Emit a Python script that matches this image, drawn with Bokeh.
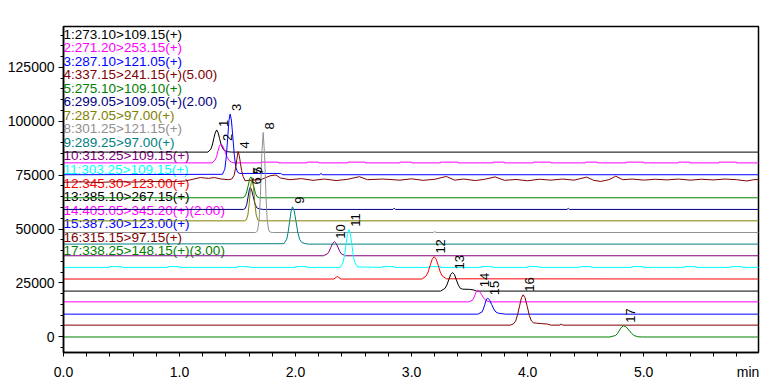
import math
from bokeh.plotting import figure
from bokeh.models import FixedTicker, PrintfTickFormatter, CustomJSTickFormatter, Range1d
from bokeh.embed import file_html
from bokeh.resources import INLINE
from bokeh.core.properties import value

TRACE_LABELS = ["1:273.10>109.15(+)", "2:271.20>253.15(+)", "3:287.10>121.05(+)",
                "4:337.15>241.15(+)(5.00)", "5:275.10>109.10(+)", "6:299.05>109.05(+)(2.00)",
                "7:287.05>97.00(+)", "8:301.25>121.15(+)", "9:289.25>97.00(+)",
                "10:313.25>109.15(+)", "11:303.25>109.15(+)", "12:345.30>123.00(+)",
                "13:385.10>267.15(+)", "14:405.05>345.20(+)(2.00)", "15:387.30>123.00(+)",
                "16:315.15>97.15(+)", "17:338.25>148.15(+)(3.00)"]
COLORS = ["#000000", "#FF00FF", "#0000FF", "#800000", "#008000", "#000080", "#808000",
          "#909090", "#008080", "#800080", "#00FFFF", "#FF0000", "#000000", "#FF00FF",
          "#0000FF", "#800000", "#008000"]
# stacking offset of each trace (intensity units)
OFFSETS = [85700, 80700, 75200, 72900, 64500, 59100, 53800, 48400, 43000, 37600,
           32200, 26800, 21200, 16200, 10500, 5400, -100]

# retention time (min) / intensity above own baseline
T1 = [0, 1.245, 1.27, 1.283, 1.295, 1.307, 1.32, 1.333, 1.345, 1.36, 1.38, 1.41, 1.45, 6.0]
H1 = [0, 0, 1400, 3300, 6300, 8800, 10300, 9000, 6300, 3200, 1000, 200, 0, 0]
T2 = [0, 1.28, 1.306, 1.319, 1.331, 1.343, 1.356, 1.37, 1.391, 1.408, 1.426, 1.445, 1.47,
      1.7, 1.7, 1.85, 1.85, 2.1, 2.1, 2.2, 2.2, 2.45, 2.45, 2.6, 2.6, 2.9, 2.9, 3.0, 3.0,
      3.25, 3.25, 3.4, 3.4, 3.7, 3.7, 3.8, 3.8, 4.05, 4.05, 4.2, 4.2, 4.5, 4.5, 4.6, 4.6,
      4.85, 4.85, 5.0, 5.0, 5.3, 5.3, 5.4, 5.4, 5.65, 5.65, 5.8, 5.8, 6.0]
H2 = [0, 0, 1200, 2800, 5400, 7700, 8800, 8100, 5400, 2800, 1200, 400, 0,
      0, 350, 350, 0, 0, 350, 350, 0, 0, 350, 350, 0, 0, 350, 350, 0,
      0, 350, 350, 0, 0, 350, 350, 0, 0, 350, 350, 0, 0, 350, 350, 0,
      0, 350, 350, 0, 0, 350, 350, 0, 0, 350, 350, 0, 0]
T3 = [0, 1.37, 1.39, 1.404, 1.415, 1.426, 1.436, 1.447, 1.46, 1.472, 1.485, 1.50, 1.52,
      1.87, 1.89, 2.21, 2.22, 2.23, 6.0]
H3 = [0, 200, 2500, 8800, 17100, 25200, 28200, 25400, 17100, 9200, 3500, 1200, 600,
      600, 0, 0, 700, 0, 0]
T4 = [0, 0.15, 0.3, 0.45, 0.6, 0.75, 0.9, 1.05, 1.18, 1.25, 1.3, 1.35, 1.42,
      1.45, 1.47, 1.483, 1.494, 1.505, 1.515, 1.525, 1.535, 1.548, 1.565,
      1.6, 1.7, 1.78, 1.83, 1.87, 1.95, 2.05, 2.15, 2.25, 2.35, 2.45, 2.55, 2.62, 2.75, 2.9,
      3.0, 3.1, 3.2, 3.3, 3.37, 3.45, 3.55, 3.63, 3.72, 3.8, 3.9,
      4.0, 4.1, 4.2, 4.3, 4.4, 4.51, 4.57, 4.63, 4.7, 4.76, 4.82, 4.9,
      5.0, 5.1, 5.2, 5.3, 5.4, 5.5, 5.6, 5.7, 5.8, 5.89, 5.95, 6.0]
H4 = [-1200, -1000, -1300, -900, -1100, -800, -1000, -600, 1000, 600, 1000, 400, 0,
      300, 2000, 5300, 9500, 13100, 11200, 7600, 4200, 1500, -500,
      -300, 0, 1800, 2200, 800, 0, 500, -300, 300, -400, 200, 1400, 0, 300, -200,
      400, -300, 200, 1500, -200, 300, -400, 200, 1300, -300, 100,
      -500, 200, -200, 300, -200, 1200, -300, -800, 0, 1600, 0, 300,
      -200, 200, -100, 300, -200, 200, -100, 300, 0, -600, 0, 100]
T5 = [0, 1.54, 1.56, 1.575, 1.593, 1.605, 1.615, 1.626, 1.637, 1.655, 1.67, 1.69, 6.0]
H5 = [0, 0, 400, 1900, 5900, 8800, 9700, 8600, 5900, 1900, 400, 0, 0]
T6 = [0, 1.55, 1.566, 1.58, 1.592, 1.601, 1.609, 1.62, 1.634, 1.65, 1.665, 1.685, 1.72,
      2.84, 2.85, 2.86, 4.34, 4.35, 4.36, 6.0]
H6 = [0, 0, 400, 2400, 6200, 9100, 10200, 9300, 6200, 2700, 800, 300, 0,
      0, 600, 0, 0, 500, 0, 0]
T7 = [0, 1.56, 1.575, 1.589, 1.601, 1.613, 1.625, 1.637, 1.649, 1.661, 1.675, 1.695, 6.0]
H7 = [0, 0, 400, 2700, 8200, 16000, 20000, 16000, 8200, 2700, 400, 0, 0]
T8 = [0, 1.655, 1.672, 1.686, 1.697, 1.709, 1.721, 1.733, 1.745, 1.756, 1.77, 1.787, 1.81,
      3.19, 3.2, 3.21, 6.0]
H8 = [0, 0, 700, 5600, 17100, 36200, 46400, 36200, 17100, 5600, 700, 100, 0,
      0, 500, 0, 0]
T9 = [0, 1.90, 1.924, 1.937, 1.949, 1.962, 1.974, 1.988, 2.004, 2.02, 2.035, 2.055, 2.08, 2.11, 6.0]
H9 = [0, 200, 2300, 5800, 10500, 15400, 17300, 15500, 10500, 5300, 2200, 700, 300, 0, 0]
T10 = [0, 2.24, 2.275, 2.29, 2.305, 2.32, 2.335, 2.35, 2.365, 2.38, 2.395, 2.43, 6.0]
H10 = [0, 0, 900, 2100, 4000, 5700, 6500, 5700, 4000, 2100, 900, 0, 0]
T11 = [0, 0.4, 0.4, 0.5, 0.5, 0.9, 0.9, 1.0, 1.0, 1.5, 1.5, 1.6, 1.6, 2.0, 2.0, 2.1, 2.1,
       2.385, 2.41, 2.423, 2.435, 2.448, 2.46, 2.472, 2.485, 2.497, 2.51, 2.535,
       2.75, 2.75, 2.85, 2.85, 3.15, 3.15, 3.25, 3.25, 3.6, 3.6, 3.7, 3.7, 4.0, 4.0,
       4.1, 4.1, 4.45, 4.45, 4.55, 4.55, 4.9, 4.9, 5.0, 5.0, 5.35, 5.35, 5.45, 5.45,
       5.75, 5.75, 5.85, 5.85, 6.0]
H11 = [0, 0, 350, 350, 0, 0, 350, 350, 0, 0, 350, 350, 0, 0, 350, 350, 0,
       0, 2400, 5800, 10600, 15600, 17500, 15600, 10600, 5800, 2400, 200,
       0, 350, 350, 0, 0, 350, 350, 0, 0, 350, 350, 0, 0, 350,
       350, 0, 0, 350, 350, 0, 0, 350, 350, 0, 0, 350, 350, 0,
       0, 350, 350, 0, 0]
T12 = [0, 2.33, 2.36, 2.39, 3.09, 3.125, 3.143, 3.16, 3.178, 3.195, 3.212, 3.23, 3.247, 3.265, 3.3, 6.0]
H12 = [0, 0, 1200, 0, 0, 1400, 3300, 6300, 9200, 10400, 9200, 6300, 3300, 1400, 100, 0]
T13 = [0, 3.25, 3.287, 3.304, 3.32, 3.337, 3.353, 3.37, 3.386, 3.403, 3.42, 3.44, 3.5, 3.53, 3.56, 6.0]
H13 = [0, 0, 1200, 2800, 5200, 7700, 8600, 7700, 5200, 2800, 1300, 900, 800, 600, 0, 0]
T14 = [0, 3.49, 3.525, 3.536, 3.547, 3.558, 3.569, 3.585, 3.604, 3.622, 3.64, 3.67, 6.0]
H14 = [0, 0, 700, 1800, 3300, 4800, 5400, 4800, 3300, 1700, 700, 0, 0]
T15 = [0, 3.57, 3.607, 3.619, 3.631, 3.643, 3.655, 3.671, 3.69, 3.708, 3.726, 3.75, 3.78, 3.81, 6.0]
H15 = [0, 0, 1000, 2400, 4500, 6600, 7400, 6700, 4500, 2400, 1000, 400, 200, 0, 0]
T16 = [0, 3.85, 3.876, 3.897, 3.914, 3.931, 3.947, 3.962, 3.978, 3.997, 4.015, 4.032, 4.05,
       4.08, 4.12, 4.17, 4.2, 4.28, 4.29, 4.3, 6.0]
H16 = [0, 0, 500, 1900, 4900, 9000, 12700, 14100, 12700, 8600, 4500, 2000, 1100,
       900, 700, 500, 0, 0, 600, 0, 0]
T17 = [0, 4.71, 4.758, 4.776, 4.793, 4.81, 4.828, 4.85, 4.873, 4.895, 4.918, 4.95, 4.99, 6.0]
H17 = [0, 0, 700, 1700, 3200, 4600, 5200, 4600, 3200, 1700, 700, 100, 0, 0]

TIMES = [T1, T2, T3, T4, T5, T6, T7, T8, T9, T10, T11, T12, T13, T14, T15, T16, T17]
HEIGHTS = [H1, H2, H3, H4, H5, H6, H7, H8, H9, H10, H11, H12, H13, H14, H15, H16, H17]

X_TICKS = [0, 1, 2, 3, 4, 5]
X_UNIT_TICK = 5.9          # where the "min" unit text sits
Y_TICKS = [0, 25000, 50000, 75000, 100000, 125000]

# ---- layout ----
FW, FH = 695, 326
TOP = 26
Y0, Y1 = -7300, 144000
X0, X1 = 0, 5.99
FONT = "Liberation Sans"

p = figure(frame_width=FW, frame_height=FH, x_range=Range1d(X0, X1), y_range=Range1d(Y0, Y1),
           output_backend="svg", toolbar_location=None,
           min_border_left=63, min_border_top=TOP, min_border_right=18, min_border_bottom=32)
p.xgrid.visible = False
p.ygrid.visible = False
p.outline_line_color = "black"
p.outline_line_width = 1.5
p.outline_line_alpha = 1.0
p.background_fill_color = "white"
p.border_fill_color = "white"

xa = p.xaxis[0]
xa.ticker = FixedTicker(ticks=X_TICKS + [X_UNIT_TICK],
                        minor_ticks=[round(0.2 * i, 1) for i in range(0, 30)])
xa.formatter = CustomJSTickFormatter(code="return tick > 5.5 ? 'min' : tick.toFixed(1);")
ya = p.yaxis[0]
ya.ticker = FixedTicker(ticks=Y_TICKS, minor_ticks=list(range(-5000, 145001, 5000)))
ya.formatter = PrintfTickFormatter(format="%d")
for ax in (xa, ya):
    ax.major_label_text_font = FONT
    ax.major_label_text_font_size = "14px"
    ax.major_label_text_color = "black"
    ax.axis_line_color = "black"
    ax.axis_line_width = 1.5
    ax.major_tick_line_color = "black"
    ax.minor_tick_line_color = "black"
    ax.major_tick_in = 0
    ax.minor_tick_in = 0
    ax.major_label_standoff = 4
xa.major_tick_out = 0
xa.minor_tick_out = 4
xa.major_label_standoff = 7
ya.major_tick_out = 5
ya.minor_tick_out = 3

def px_to_y(py):
    # page pixel row -> data value
    return Y1 - (py - TOP) * (Y1 - Y0) / FH

# channel list
leg_y = [px_to_y(33.5 + 13.55 * i) for i in range(len(TRACE_LABELS))]
p.text(x=[X0] * len(TRACE_LABELS), y=leg_y, text=TRACE_LABELS, text_color=COLORS,
       text_font=value(FONT), text_font_size="13.5px", text_baseline="middle", text_align="left",
       x_offset=0)

# traces
for t, h, off, c in zip(TIMES, HEIGHTS, OFFSETS, COLORS):
    p.line(t, [off + v for v in h], line_color=c, line_width=1)

# peak numbers at apex
px_, py_, pt_ = [], [], []
for i, (t, h, off) in enumerate(zip(TIMES, HEIGHTS, OFFSETS)):
    k = max(range(len(h)), key=lambda j: h[j])
    px_.append(t[k]); py_.append(off + h[k]); pt_.append(str(i + 1))
p.text(x=px_, y=py_, text=pt_, angle=math.pi / 2, x_offset=2, y_offset=-3,
       text_align="left", text_baseline="top", text_color="black",
       text_font=value(FONT), text_font_size="13px")

open("out.html", "w").write(file_html(p, INLINE))
